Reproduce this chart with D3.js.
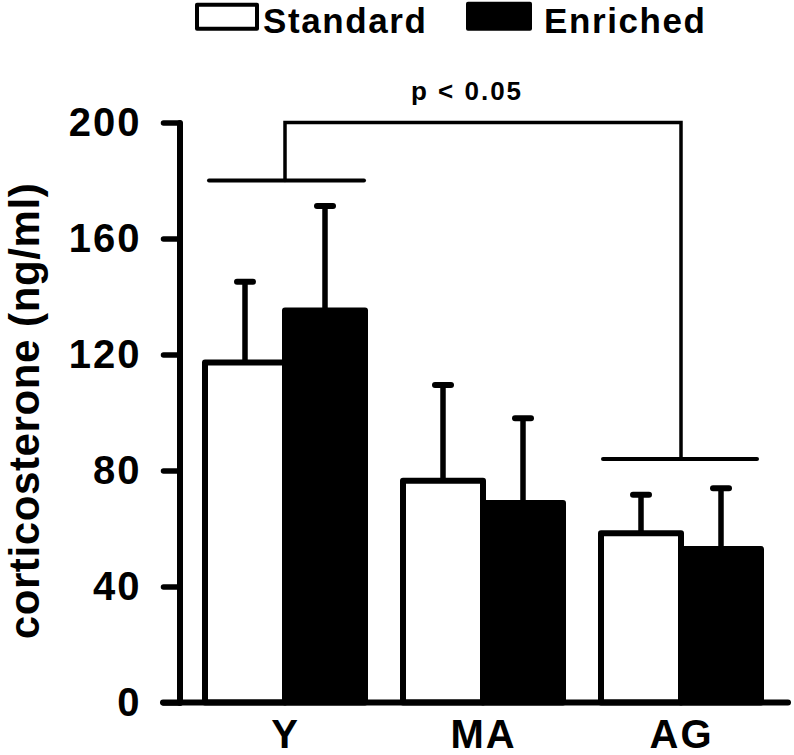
<!DOCTYPE html>
<html>
<head>
<meta charset="utf-8">
<script src="https://cdn.jsdelivr.net/npm/d3@7"></script>
<style>
  html, body { margin: 0; padding: 0; background: #fff; }
  svg { display: block; }
  text { font-family: "Liberation Sans", Arial, Helvetica, sans-serif; font-weight: bold; fill: #000; }
</style>
</head>
<body>
<svg id="chart" width="794" height="755"></svg>
<script>
// ---- data ----
const categories = ["Y", "MA", "AG"];
const seriesNames = ["Standard", "Enriched"];
const standardMean = [117.2, 76.5, 58.4];
const standardSEM = [27.9, 33.0, 13.2];
const enrichedMean = [135.2, 68.8, 52.9];
const enrichedSEM = [36.0, 29.2, 21.0];
const yTicks = [0, 40, 80, 120, 160, 200];
const yTitle = "corticosterone (ng/ml)";
const sigText = "p < 0.05";
const sigFrom = "Y", sigTo = "AG";
const sigFromLevel = 180, sigToLevel = 84, sigTopLevel = 200;

// ---- layout ----
const svg = d3.select("#chart");
const y = d3.scaleLinear().domain([0, 200]).range([702.5, 122.5]);
const x = d3.scalePoint().domain(categories).range([285, 681]);
const xs = d3.scaleBand().domain(seriesNames).range([-80, 80]).padding(0);
const fills = { Standard: "#fff", Enriched: "#000" };
const means = { Standard: standardMean, Enriched: enrichedMean };
const sems = { Standard: standardSEM, Enriched: enrichedSEM };

const rows = [];
seriesNames.forEach(s => categories.forEach((c, i) => rows.push({ s, c, v: means[s][i], e: sems[s][i] })));

// y axis
const yAxis = d3.axisLeft(y).tickValues(yTicks).tickSize(16).tickSizeOuter(0).tickPadding(22);
const gy = svg.append("g").attr("transform", "translate(179.5,0)").call(yAxis);
gy.select(".domain").attr("stroke", "#000").attr("stroke-width", 6).attr("stroke-linecap", "round");
gy.selectAll(".tick line").attr("stroke", "#000").attr("stroke-width", 5.5).attr("stroke-linecap", "round");
gy.selectAll(".tick text").attr("font-size", 40).attr("letter-spacing", 2)
  .attr("font-family", "Liberation Sans, Arial, sans-serif").attr("font-weight", "bold").attr("fill", "#000");

// bars
svg.append("g").selectAll("rect").data(rows).join("rect")
  .attr("x", d => x(d.c) + xs(d.s))
  .attr("y", d => y(d.v))
  .attr("width", xs.bandwidth())
  .attr("height", d => y(0) - y(d.v))
  .attr("fill", d => fills[d.s])
  .attr("stroke", "#000").attr("stroke-width", 6).attr("stroke-linejoin", "round");

// error bars (upper only)
const eg = svg.append("g").attr("stroke", "#000").attr("stroke-linecap", "round");
eg.selectAll("line.w").data(rows).join("line").attr("class", "w")
  .attr("x1", d => x(d.c) + xs(d.s) + xs.bandwidth() / 2)
  .attr("x2", d => x(d.c) + xs(d.s) + xs.bandwidth() / 2)
  .attr("y1", d => y(d.v)).attr("y2", d => y(d.v + d.e))
  .attr("stroke-width", 5.5).attr("stroke-linecap", "butt");
eg.selectAll("line.c").data(rows).join("line").attr("class", "c")
  .attr("x1", d => x(d.c) + xs(d.s) + xs.bandwidth() / 2 - 8)
  .attr("x2", d => x(d.c) + xs(d.s) + xs.bandwidth() / 2 + 8)
  .attr("y1", d => y(d.v + d.e)).attr("y2", d => y(d.v + d.e))
  .attr("stroke-width", 6);

// x axis line
svg.append("line").attr("x1", 163).attr("x2", 788).attr("y1", y(0)).attr("y2", y(0))
  .attr("stroke", "#000").attr("stroke-width", 6).attr("stroke-linecap", "round");
const xAxis = d3.axisBottom(x).tickSize(0).tickPadding(17);
const gx = svg.append("g").attr("transform", `translate(0,${y(0)})`).call(xAxis);
gx.select(".domain").remove();
gx.selectAll(".tick text").attr("font-size", 40).attr("letter-spacing", 2)
  .attr("font-family", "Liberation Sans, Arial, sans-serif").attr("font-weight", "bold").attr("fill", "#000");

// y title
svg.append("text").attr("transform", `translate(38.5,${(y(0) + y(200)) / 2 - 1.5}) rotate(-90)`)
  .attr("text-anchor", "middle").attr("font-size", 42).attr("letter-spacing", 0.6).text(yTitle);

// significance bracket
const sg = svg.append("g").attr("stroke", "#000").attr("fill", "none").attr("stroke-linecap", "round");
sg.append("path").attr("stroke-width", 3.5).attr("stroke-linejoin", "miter")
  .attr("d", `M${x(sigFrom)},${y(sigFromLevel)}V${y(sigTopLevel)}H${x(sigTo)}V${y(sigToLevel)}`);
sg.append("line").attr("stroke-width", 4).attr("x1", x(sigFrom) - 76).attr("x2", x(sigFrom) + 79)
  .attr("y1", y(sigFromLevel)).attr("y2", y(sigFromLevel));
sg.append("line").attr("stroke-width", 4).attr("x1", x(sigTo) - 78).attr("x2", x(sigTo) + 76)
  .attr("y1", y(sigToLevel)).attr("y2", y(sigToLevel));
svg.append("text").attr("x", 467).attr("y", 100).attr("text-anchor", "middle")
  .attr("font-size", 26).attr("letter-spacing", 2).text(sigText);

// legend
const legend = [
  { name: "Standard", bx: 197, by: 4.7, bw: 60, bh: 24, tx: 263, ty: 32.5 },
  { name: "Enriched", bx: 468, by: 3.7, bw: 62, bh: 25, tx: 544, ty: 32.5 }
];
const lg = svg.append("g");
lg.selectAll("rect").data(legend).join("rect")
  .attr("x", d => d.bx).attr("y", d => d.by).attr("width", d => d.bw).attr("height", d => d.bh)
  .attr("fill", d => fills[d.name]).attr("stroke", "#000").attr("stroke-width", 4).attr("stroke-linejoin", "round");
lg.selectAll("text").data(legend).join("text")
  .attr("x", d => d.tx).attr("y", d => d.ty).attr("font-size", 35).attr("letter-spacing", 1.6)
  .text(d => d.name);
</script>
</body>
</html>
